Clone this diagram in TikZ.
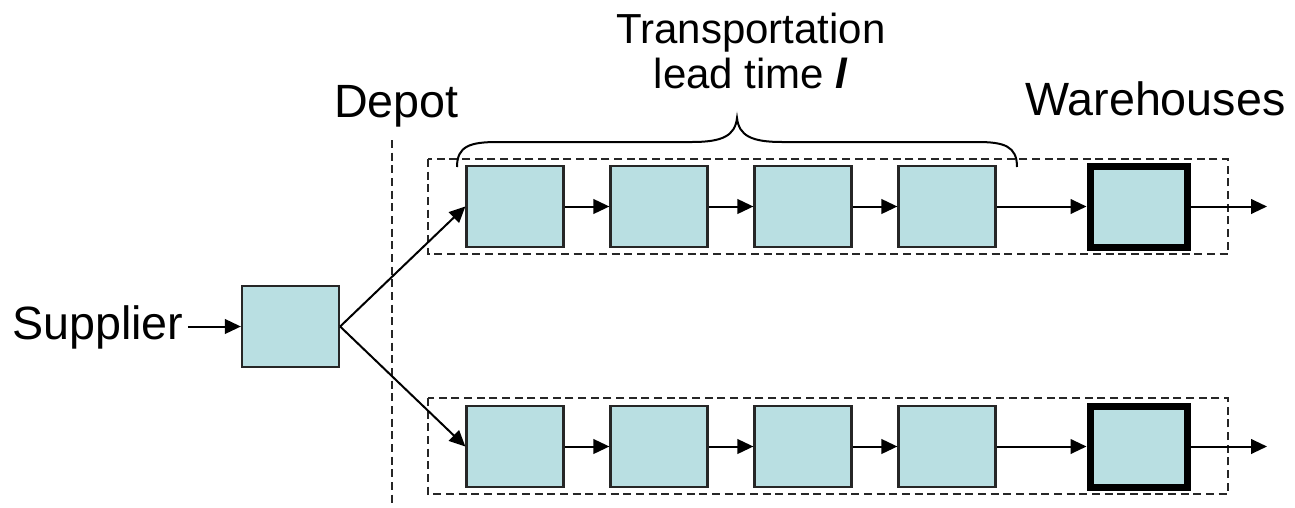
\documentclass[tikz,border=0pt]{standalone}
\usepackage{fontspec}
\setmainfont{Liberation Sans}
\usetikzlibrary{arrows.meta}
\definecolor{stagefill}{RGB}{185,223,226}
\begin{document}
\begin{tikzpicture}[x=0.75pt,y=-0.75pt,
  stage/.style={draw=black!85, line width=1.7pt, fill=stagefill,
    minimum width=72.75pt, minimum height=60.75pt, inner sep=0pt},
  warehouse/.style={stage, draw=black, line width=5.25pt},
  flow/.style={line width=1.5pt, -{Triangle[length=12pt,width=11pt]}},
  groupbox/.style={draw=black!85, line width=1.4pt, dash pattern=on 6pt off 3.5pt},
  label/.style={inner sep=0pt, font=\fontsize{35}{40}\selectfont},
  brace/.style={line width=1.5pt}
]
\useasboundingbox (0,0) rectangle (1295,507);

% labels
\node[label, anchor=base west] (sup) at (12,339) {Supplier};
\node[label, anchor=base west] (dep) at (334,117) {Depot};
\node[label, anchor=base west] (wh) at (1025,115) {Warehouses};
\node[inner sep=0pt, anchor=base, align=center,
  font=\fontsize{31.5}{33.75}\selectfont] (lt) at (751,88)
  {Transportation\\lead time \textbf{\textit{l}}};

% depot boundary
\draw[groupbox] (392,140) -- (392,507);

% groups of one transport line each
\draw[groupbox] (428,159) rectangle (1228,254);
\draw[groupbox] (428,398) rectangle (1228,494);

% lead time brace
\draw[brace] (457,167) .. controls (457,146) and (470,142) .. (498,142)
  -- (692,142) .. controls (722,142) and (735,136) .. (737,118)
  .. controls (739,136) and (752,142) .. (782,142)
  -- (977,142) .. controls (1004,142) and (1017,146) .. (1017,167);

% supplier
\node[stage] (s) at (290.5,326.5) {};
\draw[flow] (sup.east |- s.west) ++(4,0) -- (s.west);

% two transport lines
\foreach \r/\y in {a/206.5, b/446.5} {
  \node[stage] (\r1) at (515,\y) {};
  \node[stage] (\r2) at (659,\y) {};
  \node[stage] (\r3) at (803,\y) {};
  \node[stage] (\r4) at (947,\y) {};
  \node[warehouse] (\r5) at (1138.5,\y) {};
  \coordinate (\r out) at (1267,\y);
  \draw[flow] (s.east) -- (\r1.west);
  \draw[flow] (\r1) -- (\r2);
  \draw[flow] (\r2) -- (\r3);
  \draw[flow] (\r3) -- (\r4);
  \draw[flow] (\r4) -- (\r5);
  \draw[flow] (\r5) -- (\r out);
}
\end{tikzpicture}
\end{document}
